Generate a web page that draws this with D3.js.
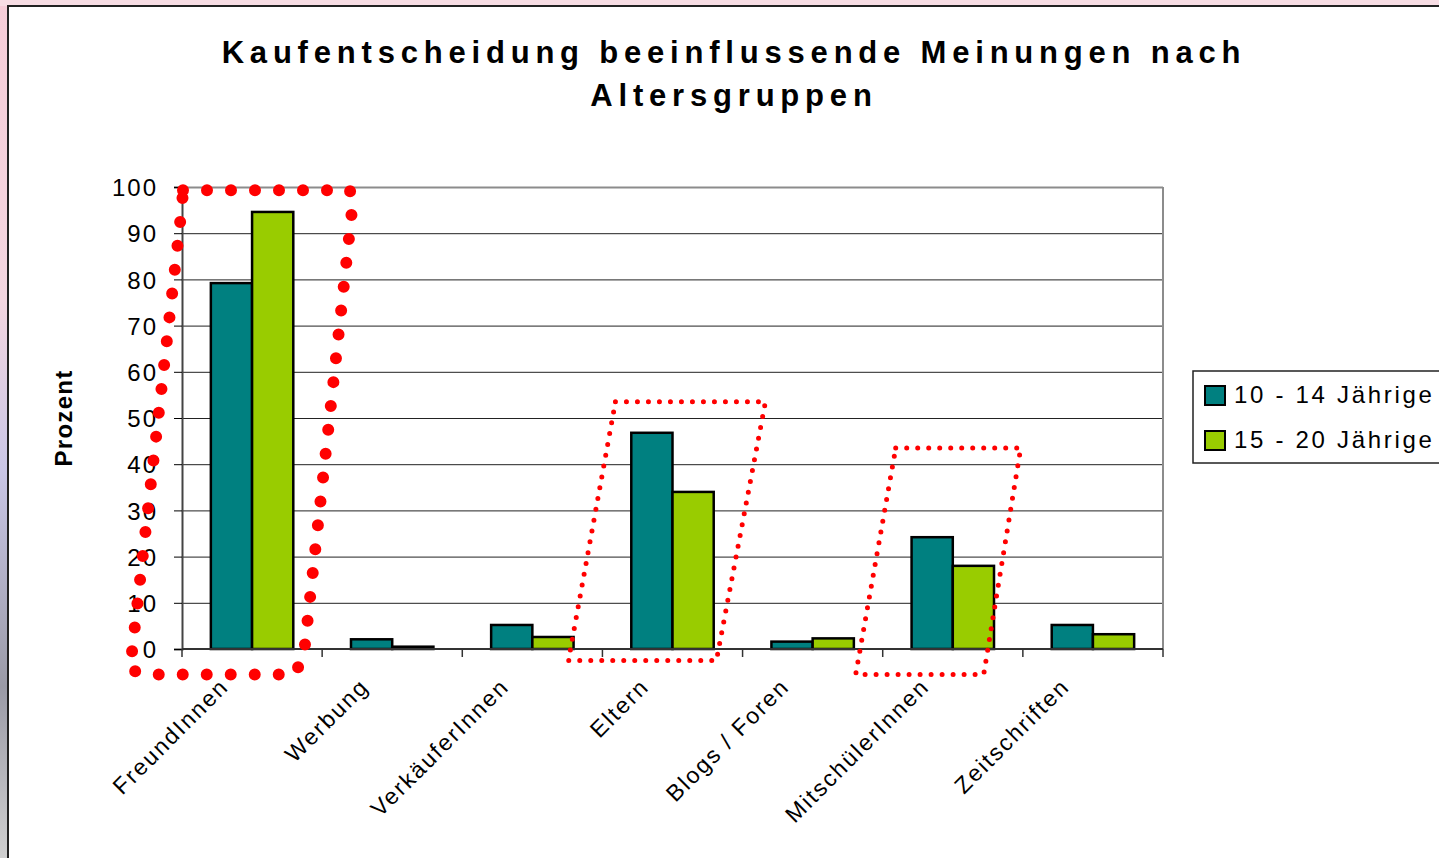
<!DOCTYPE html>
<html lang="de">
  <head>
    <meta charset="UTF-8" />
    <script src="https://d3js.org/d3.v7.min.js"></script>
    <style>
      body { margin: 0; background: #fff; }
      svg { display: block; font-family: "Liberation Sans", Arial, sans-serif; }
    </style>
  </head>
  <body>
    <script>
      var width = 1439,
        height = 858;

      // data
      var categories = ["FreundInnen", "Werbung", "VerkäuferInnen", "Eltern", "Blogs / Foren", "MitschülerInnen", "Zeitschriften"];
      var seriesNames = ["10 - 14 Jährige", "15 - 20 Jährige"];
      var young = [79.2, 2.1, 5.2, 46.8, 1.6, 24.2, 5.2];
      var older = [94.6, 0.5, 2.6, 34, 2.3, 18, 3.2];
      var yTicks = [0, 10, 20, 30, 40, 50, 60, 70, 80, 90, 100];
      var colors = ["#008080", "#99cc00"];

      var margin = { left: 182, top: 187, right: 276, bottom: 209 };
      var plotW = width - margin.left - margin.right,
        plotH = height - margin.top - margin.bottom;

      var svg = d3.select("body").append("svg")
        .attr("width", width)
        .attr("height", height);

      // backdrop round the chart frame (slide background peeking through)
      var defs = svg.append("defs");
      var grad = defs.append("linearGradient").attr("id", "side").attr("x1", 0).attr("y1", 0).attr("x2", 0).attr("y2", 1);
      grad.append("stop").attr("offset", "0%").attr("stop-color", "#f6cdd8");
      grad.append("stop").attr("offset", "35%").attr("stop-color", "#f3d6e0");
      grad.append("stop").attr("offset", "55%").attr("stop-color", "#c9c6e6");
      grad.append("stop").attr("offset", "80%").attr("stop-color", "#9a9aa6");
      grad.append("stop").attr("offset", "100%").attr("stop-color", "#d0d0d0");
      svg.append("rect").attr("x", 0).attr("y", 0).attr("width", 8).attr("height", height).attr("fill", "url(#side)");
      svg.append("rect").attr("x", 0).attr("y", 0).attr("width", width).attr("height", 6).attr("fill", "#f7dde4");
      svg.append("rect").attr("x", 8).attr("y", 6).attr("width", width).attr("height", height)
        .attr("fill", "#fff").attr("stroke", "#222").attr("stroke-width", 2);

      var x = d3.scaleBand().domain(categories).range([0, plotW]);
      var xs = d3.scaleBand().domain(seriesNames).range([0, x.bandwidth()]).paddingOuter(0.7);
      var y = d3.scaleLinear().domain([0, 100]).range([plotH, 0]);

      var g = svg.append("g").attr("transform", "translate(" + margin.left + "," + margin.top + ")");

      // gridlines
      var grid = g.append("g").call(d3.axisLeft(y).tickValues(yTicks).tickSize(-plotW).tickFormat(""));
      grid.select(".domain").remove();
      grid.selectAll(".tick line").attr("stroke", "#222").attr("stroke-width", 1);
      grid.selectAll(".tick").filter(function (d) { return d === 100; }).select("line").attr("stroke", "#8c8c8c").attr("stroke-width", 2);

      // right border of plot area
      g.append("line").attr("x1", plotW).attr("x2", plotW).attr("y1", 0).attr("y2", plotH)
        .attr("stroke", "#8c8c8c").attr("stroke-width", 2);

      // bars
      var rows = categories.map(function (c, i) {
        return { cat: c, values: [young[i], older[i]] };
      });
      var groups = g.selectAll(".cat").data(rows).enter().append("g")
        .attr("transform", function (d) { return "translate(" + x(d.cat) + ",0)"; });
      groups.selectAll("rect")
        .data(function (d) {
          return d.values.map(function (v, k) { return { s: seriesNames[k], v: v, k: k }; });
        })
        .enter().append("rect")
        .attr("x", function (d) { return xs(d.s); })
        .attr("y", function (d) { return y(d.v); })
        .attr("width", xs.bandwidth())
        .attr("height", function (d) { return plotH - y(d.v); })
        .attr("fill", function (d) { return colors[d.k]; })
        .attr("stroke", "#000")
        .attr("stroke-width", 2.5);

      // y axis
      var yAxis = g.append("g").call(d3.axisLeft(y).tickValues(yTicks).tickSize(8).tickPadding(16));
      yAxis.select(".domain").attr("stroke", "#444").attr("stroke-width", 2);
      yAxis.selectAll(".tick line").attr("stroke", "#000");
      yAxis.selectAll("text").attr("fill", "#000").style("font-size", "24px").style("letter-spacing", "2px")
        .attr("dy", "0.36em");

      // x axis
      var xAxis = g.append("g").attr("transform", "translate(0," + plotH + ")");
      xAxis.append("line").attr("x1", 0).attr("x2", plotW).attr("stroke", "#333").attr("stroke-width", 2);
      xAxis.selectAll(".sep").data(d3.range(categories.length + 1)).enter().append("line")
        .attr("x1", function (i) { return i * x.step(); })
        .attr("x2", function (i) { return i * x.step(); })
        .attr("y1", 0).attr("y2", 8)
        .attr("stroke", "#333").attr("stroke-width", 1.5);
      xAxis.selectAll(".lbl").data(categories).enter().append("text")
        .attr("transform", function (d) {
          return "translate(" + (x(d) + x.bandwidth() / 2 - 22) + ",39) rotate(-45)";
        })
        .attr("text-anchor", "end")
        .style("font-size", "23px")
        .style("letter-spacing", "2px")
        .text(function (d) { return d; });

      // y label
      svg.append("text")
        .attr("transform", "translate(72," + (margin.top + plotH / 2) + ") rotate(-90)")
        .attr("text-anchor", "middle")
        .style("font-size", "24px")
        .style("font-weight", "bold")
        .style("letter-spacing", "1.3px")
        .text("Prozent");

      // title
      var title = svg.append("text").attr("text-anchor", "middle")
        .style("font-size", "31px").style("font-weight", "bold").style("letter-spacing", "5.8px");
      title.append("tspan").attr("x", 734).attr("y", 63).text("Kaufentscheidung beeinflussende Meinungen nach");
      title.append("tspan").attr("x", 734).attr("y", 106).text("Altersgruppen");

      // legend
      var legend = svg.append("g").attr("transform", "translate(1193,371)");
      legend.append("rect").attr("width", 260).attr("height", 92).attr("fill", "#fff").attr("stroke", "#222").attr("stroke-width", 1.5);
      var items = legend.selectAll(".item").data(seriesNames).enter().append("g")
        .attr("transform", function (d, i) { return "translate(12," + (15 + i * 45) + ")"; });
      items.append("rect").attr("width", 20).attr("height", 19)
        .attr("fill", function (d, i) { return colors[i]; })
        .attr("stroke", "#000").attr("stroke-width", 2);
      items.append("text").attr("x", 29).attr("y", 17)
        .style("font-size", "24px").style("letter-spacing", "2.7px")
        .text(function (d) { return d; });

      // red dotted highlight marks, placed via the scales
      function bx(i, off) { return x(categories[i]) + off; }
      var line = d3.line().curve(d3.curveLinearClosed);
      var highlights = [
        { pts: [[bx(0, 1), y(99.3)], [bx(0, 168), y(99.3)], [bx(0, 170), y(95)], [bx(0, 122), y(-1)], [bx(0, 113), y(-5.5)], [bx(0, -36), y(-5.5)], [bx(0, -52), y(-4.5)], [bx(0, 0), y(96)]], big: true },
        { pts: [[bx(3, 13), y(53.5)], [bx(3, 163), y(53.5)], [bx(3, 114), y(-2.5)], [bx(3, -34), y(-2.5)]], big: false },
        { pts: [[bx(5, 13), y(43.5)], [bx(5, 138), y(43.5)], [bx(5, 101), y(-5.5)], [bx(5, -27), y(-5.5)]], big: false }
      ];
      g.selectAll(".hl").data(highlights).enter().append("path")
        .attr("d", function (d) { return line(d.pts); })
        .attr("fill", "none")
        .attr("stroke", "#ff0000")
        .attr("stroke-linecap", "round")
        .attr("stroke-linejoin", "round")
        .attr("stroke-width", function (d) { return d.big ? 12 : 5; })
        .attr("stroke-dasharray", function (d) { return d.big ? "0 24" : "0 11"; });
    </script>
  </body>
</html>
